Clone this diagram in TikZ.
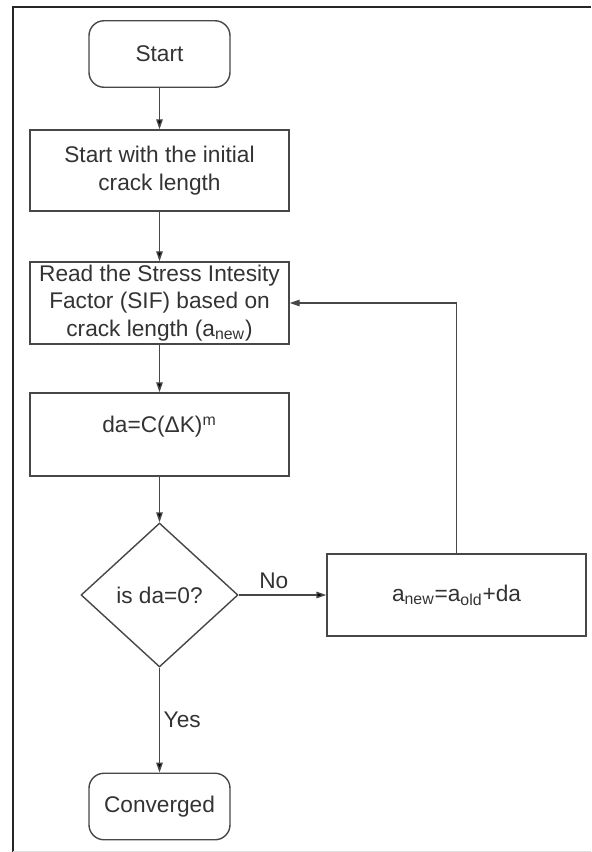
\documentclass[tikz,border=0pt]{standalone}
\usepackage{fontspec}
\setmainfont{Liberation Sans}
\usetikzlibrary{shapes.geometric, arrows.meta}
\definecolor{ink}{HTML}{333333}
\definecolor{edgegray}{HTML}{474747}
\tikzset{
    every node/.style={text=ink, font=\fontsize{12.9}{15.6}\selectfont,
    	align=center}
}
\tikzset{
    box/.style={rectangle, draw=edgegray, line width=.8pt, minimum width=5.18cm,
    	minimum height=1.64cm, inner sep=1pt},
    term/.style={box, rounded corners=.3cm, minimum width=2.82cm,
    	minimum height=1.33cm},
    test/.style={diamond, draw=edgegray, line width=.8pt, minimum width=3.14cm,
    	minimum height=2.88cm, inner sep=0pt},
    flow/.style={draw=edgegray, line width=.8pt,
    	-{Triangle[length=2mm, width=1.3mm]}}
}

\begin{document}
\begin{tikzpicture}
	\useasboundingbox (0,0) rectangle (11.82,-17.04);
	\draw[line width=1.4pt, black!85] (0.26,-17.04) |- (11.82,-0.14);
	\draw[black!12] (0.26,-17.02) -- (11.82,-17.02);

	\node (1) [term] at (3.19cm, -1.08cm) {Start};
	\node (2) [box, minimum height=1.62cm] at (3.19cm, -3.41cm) {Start with the initial\\crack length};
	\node (3) [box] at (3.19cm, -6.06cm) {Read the Stress Intesity\\Factor (SIF) based on\\crack length (a\textsubscript{new})};
	\node (4) [box, minimum height=1.66cm, text depth=.4cm] at (3.19cm, -8.69cm) {da=C(ΔK)\textsuperscript{m}};
	\node (5) [test] at (3.19cm, -11.9cm) {is da=0?};
	\node (6) [box] at (9.13cm, -11.9cm) {a\textsubscript{new}=a\textsubscript{old}+da};
	\node (7) [term] at (3.19cm, -16.13cm) {Converged};

	\draw[flow] (1) edge (2); \draw[flow] (2) edge (3); \draw[flow] (3) edge (4);
	\draw[flow] (4) edge (5); \draw[flow] (6) |- (3);
	\draw[flow] (5) edge node[above, pos=.4] {No} (6);
	\draw[flow] (5) edge node[right, inner sep=2pt] {Yes} (7);
\end{tikzpicture}
\end{document}
